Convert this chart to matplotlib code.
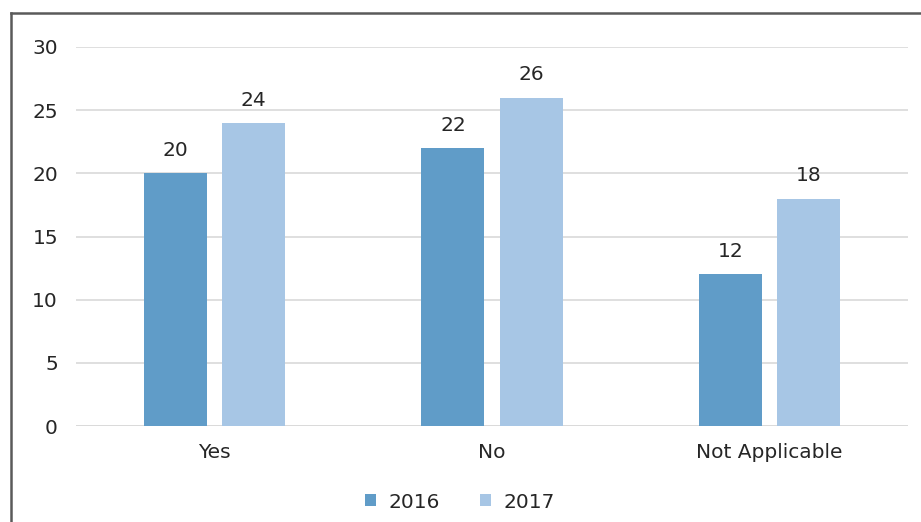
import matplotlib
matplotlib.use("Agg")
import numpy as np
import matplotlib.pyplot as plt
from matplotlib.lines import Line2D

categorias = ["Yes", "No", "Not Applicable"]
anos = ["2016", "2017"]
valores_2016 = [20, 22, 12]
valores_2017 = [24, 26, 18]
y_ticks = [0, 5, 10, 15, 20, 25, 30]

cor_2016 = "#609cc8"
cor_2017 = "#a7c6e5"
cor_texto = "#262626"
tam = 14.5

plt.rcParams["font.family"] = ["DejaVu Sans"]

fig = plt.figure(figsize=(9.21, 5.22), dpi=100)
ax = fig.add_axes([76 / 921, 96 / 522, 832 / 921, 379 / 522])

x = np.arange(len(categorias))
largura = 0.227
deslocamento = 0.141

b1 = ax.bar(x - deslocamento, valores_2016, largura, color=cor_2016, label=anos[0], zorder=3)
b2 = ax.bar(x + deslocamento, valores_2017, largura, color=cor_2017, label=anos[1], zorder=3)

# rotulos de dados
for barras in (b1, b2):
    for r in barras:
        ax.annotate(str(int(r.get_height())),
                    (r.get_x() + r.get_width() / 2, r.get_height()),
                    xytext=(0, 9.5), textcoords="offset points",
                    ha="center", va="bottom", fontsize=tam, color=cor_texto)

ax.set_xlim(-0.5, 2.5)
ax.set_ylim(0, 30)
ax.set_yticks(y_ticks)
ax.set_xticks(x)
ax.set_xticklabels(categorias)
ax.tick_params(axis="both", length=0, labelsize=tam, colors=cor_texto)
ax.tick_params(axis="y", pad=13)
ax.tick_params(axis="x", pad=12.5)
ax.yaxis.grid(True, color="#d9d9d9", linewidth=1.2, zorder=0)
for s in ax.spines.values():
    s.set_visible(False)
ax.axhline(0, color="#d9d9d9", linewidth=1.2, zorder=2)

leg = fig.legend(handles=[b1, b2], labels=anos, loc="center", bbox_to_anchor=(460 / 921, 1 - 502 / 522),
                 ncol=2, frameon=False, fontsize=tam, handlelength=0.55, handleheight=0.55,
                 handletextpad=0.6, columnspacing=2.0)
for t in leg.get_texts():
    t.set_color(cor_texto)

# moldura (borda esquerda e superior)
fig.add_artist(Line2D([10.5 / 921, 10.5 / 921], [0, 1 - 13 / 522], transform=fig.transFigure, color="#5a5a5a", linewidth=1.8))
fig.add_artist(Line2D([10.5 / 921, 1], [1 - 13 / 522, 1 - 13 / 522], transform=fig.transFigure, color="#5a5a5a", linewidth=1.8))

fig.savefig("out.png", dpi=100)
